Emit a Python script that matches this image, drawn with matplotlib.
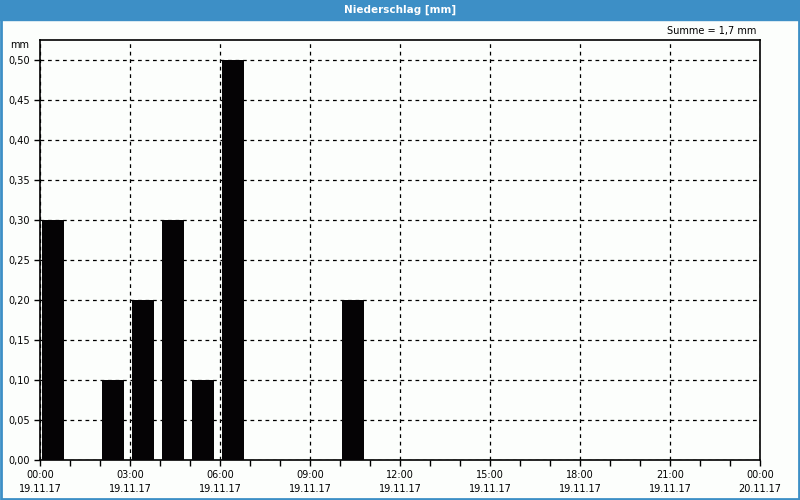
import numpy as np
import matplotlib.pyplot as plt
from matplotlib.patches import Rectangle

# hourly precipitation (mm), hour index from 19.11.17 00:00
hours = [0, 2, 3, 4, 5, 6, 10]
precip = [0.3, 0.1, 0.2, 0.3, 0.1, 0.5, 0.2]
tick_hours = [0, 3, 6, 9, 12, 15, 18, 21, 24]
tick_labels = ["00:00\n19.11.17", "03:00\n19.11.17", "06:00\n19.11.17", "09:00\n19.11.17",
               "12:00\n19.11.17", "15:00\n19.11.17", "18:00\n19.11.17", "21:00\n19.11.17",
               "00:00\n20.11.17"]
y_ticks = [0.0, 0.05, 0.1, 0.15, 0.2, 0.25, 0.3, 0.35, 0.4, 0.45, 0.5]

blue = "#3d8fc6"
fig = plt.figure(figsize=(8, 5), dpi=100)
fig.patch.set_facecolor("#fcfefc")

# title bar and border
fig.patches.append(Rectangle((0, 0.96), 1, 0.04, transform=fig.transFigure, color=blue, zorder=0))
fig.patches.append(Rectangle((0.001, 0.002), 0.998, 0.996, transform=fig.transFigure,
                             fill=False, edgecolor=blue, lw=2, zorder=0))
fig.text(0.5, 0.98, "Niederschlag [mm]", color="white", ha="center", va="center",
         fontsize=7.5, fontweight="bold")
fig.text(0.945, 0.938, "Summe = 1,7 mm", ha="right", va="center", fontsize=7)

ax = fig.add_axes([0.05, 0.08, 0.9, 0.84])
ax.set_facecolor("#fcfefc")
ax.bar(np.array(hours) + 0.07, precip, width=0.73, align="edge", color="#050305", zorder=3)

ax.set_xlim(0, 24)
ax.set_ylim(0, 0.525)
ax.set_xticks(tick_hours)
ax.set_xticklabels(tick_labels, fontsize=7, linespacing=1.55)
ax.set_xticks(range(25), minor=True)
ax.set_yticks(y_ticks)
ax.set_yticklabels([f"{v:.2f}".replace(".", ",") for v in y_ticks], fontsize=7)
ax.tick_params(axis="both", length=4, width=1, color="black", pad=3)
ax.tick_params(axis="x", which="minor", length=4, width=1)
ax.grid(True, color="black", linestyle=(0, (3, 3)), linewidth=0.9, zorder=1)
for s in ax.spines.values():
    s.set_linewidth(1.2)
fig.text(0.037, 0.91, "mm", ha="right", va="center", fontsize=7)

plt.savefig("out.png", dpi=100, facecolor=fig.get_facecolor())
